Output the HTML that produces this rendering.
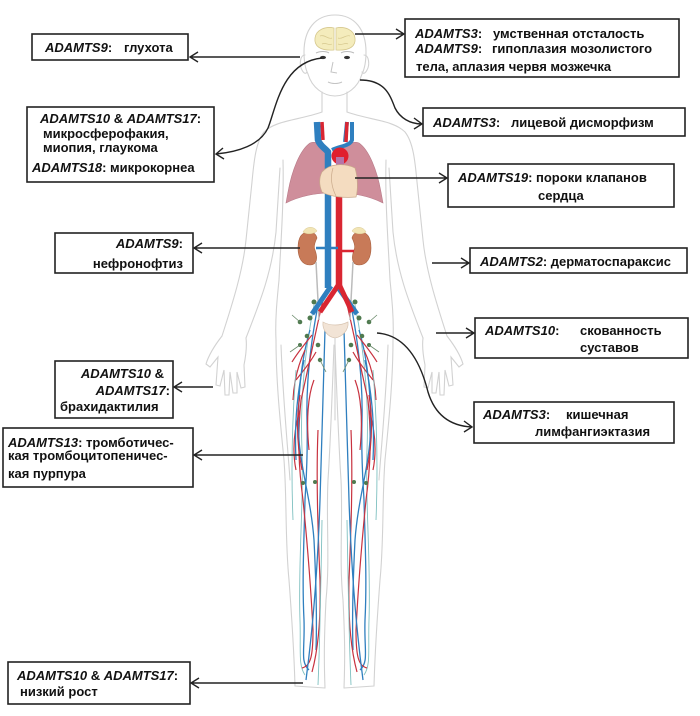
<!DOCTYPE html>
<html><head><meta charset="utf-8"><style>
html,body{margin:0;padding:0;background:#fff;}
svg{display:block;}
text{font-family:"Liberation Sans","DejaVu Sans",sans-serif;font-weight:bold;font-size:13px;fill:#111;}
.i{font-style:italic;}
.box{fill:#fff;stroke:#222;stroke-width:1.6;}
.ar{fill:none;stroke:#222;stroke-width:1.4;}
.bo{fill:none;stroke:#d2d2d2;stroke-width:1.1;stroke-linecap:round;}
.vr{fill:none;stroke:#c8323f;stroke-width:1.2;}
.vb{fill:none;stroke:#2f7fbf;stroke-width:1.3;}
.vt{fill:none;stroke:#7fc0c0;stroke-width:0.9;}
</style></head><body>
<svg width="700" height="716" viewBox="0 0 700 716" xmlns="http://www.w3.org/2000/svg">
<rect width="700" height="716" fill="#fff"/>

<!-- ===== BODY OUTLINE ===== -->
<g id="half">
  <!-- arm outer -->
  <path class="bo" d="M322,112 C300,120 276,120 264,132 C256,142 254,160 252,182 L246,240 C243,270 233,302 222,336"/>
  <!-- arm inner -->
  <path class="bo" d="M280,168 L276,232 C272,272 260,302 246,338"/>
  <!-- torso side -->
  <path class="bo" d="M283,160 C284,200 281,240 279,280 C277,300 275,320 276,340"/>
  <!-- hand -->
  <path class="bo" d="M222,336 C215,345 209,354 206,364 L210,367 L218,357 L216,385 L220,386 L224,370 L225,395 L229,395 L230,372 L233,393 L237,393 L237,372 L241,388 L245,387 L244,365 C246,355 247,346 246,338"/>
  <!-- leg -->
  <path class="bo" d="M276,340 C276,380 280,420 284,460 C287,500 285,540 289,580 C292,620 294,650 295,686 L325,688"/>
  <path class="bo" d="M334,345 C332,400 330,450 328,480 C326,520 330,560 326,600 C324,640 324,660 325,688"/>
  <path class="bo" d="M281,345 C283,400 288,450 290,480" />
  <!-- leg vessels -->
  <path class="vt" d="M314,305 C305,350 300,400 302,450 C304,500 298,560 300,620 C301,650 298,665 305,675"/>
  <path class="vb" d="M319,300 C311,340 306,380 307,420 C308,460 306,480 305,500 C304,540 302,580 304,620 C305,650 300,662 309,670"/>
  <path class="vr" d="M323,300 C316,330 310,360 301,400 C297,440 299,470 303,500 C307,540 311,590 313,630 C313,655 311,666 302,668"/>
  <path class="vb" d="M310,330 C301,360 297,400 299,440 C301,470 311,500 314,540 C316,580 317,620 316,650"/>
  <path class="vr" d="M312,335 C304,345 298,352 292,362 M305,350 C298,365 294,380 293,400 M300,410 C294,430 292,450 296,470"/>
  <path class="vr" d="M318,430 C316,480 318,530 320,580 C321,620 318,650 312,672"/>
  <path class="vr" d="M316,352 C309,365 302,372 296,380 M314,380 C308,395 306,420 309,450 M300,395 C296,420 297,445 302,470"/>
  <path class="vb" d="M325,330 C323,380 322,440 320,500 C318,560 314,620 306,680"/>
  <path class="vb" d="M304,360 C298,390 294,420 296,460"/>
  <path class="vt" d="M296,370 C292,420 291,470 293,520 M322,520 C321,580 320,640 318,685"/>
  <!-- lymph nodes -->
  <g fill="#4f7a4f">
    <circle cx="314" cy="302" r="2.5"/><circle cx="310" cy="318" r="2.5"/><circle cx="300" cy="322" r="2.3"/>
    <circle cx="307" cy="336" r="2.3"/><circle cx="318" cy="345" r="2.3"/><circle cx="320" cy="360" r="2.2"/>
    <circle cx="300" cy="345" r="2"/><circle cx="303" cy="483" r="2"/><circle cx="315" cy="482" r="2"/>
  </g>
  <path d="M300,322 L292,315 M300,345 L290,352 M320,360 L326,372" stroke="#6a8a6a" stroke-width="0.8" fill="none"/>
  <!-- lung -->
  <path d="M310,143 C300,150 292,170 288,192 L286,203 C300,196 315,193 331,193 L327,150 C323,144 316,141 310,143 Z" fill="#cf8e9b" stroke="#b77a88" stroke-width="0.6"/>
  <!-- kidney -->
  <path d="M309,232 C300,232 298,240 298,248 C298,258 302,265 310,265 C317,265 318,258 315,250 C313,246 316,240 317,238 C316,234 313,232 309,232 Z" fill="#c87a58" stroke="#a8603f" stroke-width="0.6"/>
  <path d="M303,232 C306,226 314,226 317,231 C314,234 307,235 303,232 Z" fill="#f2e5b5" stroke="#d8c890" stroke-width="0.5"/>
  <!-- ureter -->
  <path d="M316,262 L319,320" stroke="#bbb" stroke-width="1.5" fill="none"/>
  <!-- ear -->
  <path class="bo" d="M305,55 C300,55 299,65 302,70 C304,74 306,74 307,72"/>
  <!-- neck -->
  <path class="bo" d="M322,92 L322,112"/>
</g>
<use href="#half" transform="translate(669,0) scale(-1,1)"/>

<!-- head -->
<path class="bo" d="M335,15 C355,15 366,30 366,52 C366,62 364,70 362,74 C358,88 346,96 335,96 C324,96 312,88 308,74 C306,70 304,62 304,52 C304,30 315,15 335,15 Z"/>
<!-- brain -->
<path d="M334,28 C325,26 316,30 315,38 C314,46 320,51 334,50 Z" fill="#f4ecbc" stroke="#d6c88e" stroke-width="0.8"/>
<path d="M336,28 C345,26 354,30 355,38 C356,46 350,51 336,50 Z" fill="#f4ecbc" stroke="#d6c88e" stroke-width="0.8"/>
<path d="M320,36 C325,34 328,40 332,38 M338,38 C342,40 346,34 350,36 M322,44 C326,42 329,46 332,44 M338,44 C342,46 345,42 348,44" stroke="#d6c88e" stroke-width="0.7" fill="none"/>
<!-- face -->
<path d="M316,53 C320,51 326,51 329,53 M341,53 C344,51 350,51 354,53" stroke="#bbb" stroke-width="1" fill="none"/>
<ellipse cx="323" cy="57.5" rx="3" ry="1.6" fill="#333"/>
<ellipse cx="347" cy="57.5" rx="3" ry="1.6" fill="#333"/>
<path d="M333,62 L331,72 L337,73 M328,82 C332,84 338,84 342,82" stroke="#c4c4c4" stroke-width="1" fill="none"/>

<!-- central vessels -->
<path d="M317,122 L318,140 C320,146 325,148 328,152 L328,288" stroke="#2f7fbf" stroke-width="6.5" fill="none"/>
<path d="M322,122 L323,140" stroke="#d92632" stroke-width="3.5" fill="none"/>
<path d="M347,122 L345,142 M352,122 L352,140 C350,146 340,146 332,150" stroke="#2f7fbf" stroke-width="4" fill="none"/>
<path d="M347,122 L346,142" stroke="#d92632" stroke-width="3.5" fill="none"/>
<path d="M339,196 L339,288" stroke="#d92632" stroke-width="6.5" fill="none"/>
<circle cx="340" cy="156" r="8.5" fill="#e01f2e"/>
<rect x="336" y="157" width="8" height="9" fill="#b575a8"/>
<!-- iliacs -->
<path d="M331,286 L312,314" stroke="#2f7fbf" stroke-width="5" fill="none"/>
<path d="M337,286 L357,314" stroke="#2f7fbf" stroke-width="5" fill="none"/>
<path d="M339,284 L320,312" stroke="#d92632" stroke-width="5" fill="none"/>
<path d="M339,284 L352,312" stroke="#d92632" stroke-width="5" fill="none"/>
<!-- renal -->
<path d="M316,248 L338,248" stroke="#2f7fbf" stroke-width="2.5"/>
<path d="M340,251 L354,251" stroke="#d92632" stroke-width="2.5"/>
<!-- heart -->
<path d="M322,172 C330,163 345,163 355,168 C358,178 358,190 356,197 C345,198 330,197 322,192 C319,185 319,178 322,172 Z" fill="#f4dcc0" stroke="#c9a98a" stroke-width="0.7"/>
<path d="M333,168 C330,178 332,188 336,196" stroke="#c9a98a" stroke-width="0.7" fill="none"/>
<!-- bladder -->
<path d="M323,322 C330,326 340,326 348,322 C349,330 342,337 335,338 C328,337 322,330 323,322 Z" fill="#f2e4d6" stroke="#d8c4b0" stroke-width="0.7"/>
<path class="bo" d="M335,338 L335,420"/>

<!-- ===== BOXES ===== -->
<rect class="box" x="32" y="34" width="156" height="26"/>
<text x="45" y="52"><tspan class="i">ADAMTS9</tspan>:</text><text x="124" y="52">глухота</text>

<rect class="box" x="27" y="107" width="187" height="75"/>
<text x="40" y="123"><tspan class="i">ADAMTS10</tspan> &amp; <tspan class="i">ADAMTS17</tspan>:</text>
<text x="43" y="138">микросферофакия,</text>
<text x="43" y="152">миопия, глаукома</text>
<text x="32" y="172"><tspan class="i">ADAMTS18</tspan>: микрокорнеа</text>

<rect class="box" x="405" y="19" width="274" height="58"/>
<text x="415" y="38"><tspan class="i">ADAMTS3</tspan>:</text><text x="493" y="38">умственная отсталость</text>
<text x="415" y="53"><tspan class="i">ADAMTS9</tspan>:</text><text x="492" y="53">гипоплазия мозолистого</text>
<text x="416" y="71">тела, аплазия червя мозжечка</text>

<rect class="box" x="423" y="108" width="262" height="28"/>
<text x="433" y="127"><tspan class="i">ADAMTS3</tspan>:</text><text x="511" y="127">лицевой дисморфизм</text>

<rect class="box" x="448" y="164" width="226" height="43"/>
<text x="458" y="182"><tspan class="i">ADAMTS19</tspan>: пороки клапанов</text>
<text x="538" y="200">сердца</text>

<rect class="box" x="55" y="233" width="138" height="40"/>
<text x="183" y="248" text-anchor="end"><tspan class="i">ADAMTS9</tspan>:</text>
<text x="183" y="268" text-anchor="end">нефронофтиз</text>

<rect class="box" x="470" y="248" width="217" height="25"/>
<text x="480" y="266"><tspan class="i">ADAMTS2</tspan>: дерматоспараксис</text>

<rect class="box" x="475" y="318" width="213" height="40"/>
<text x="485" y="335"><tspan class="i">ADAMTS10</tspan>:</text><text x="580" y="335">скованность</text>
<text x="580" y="352">суставов</text>

<rect class="box" x="55" y="361" width="118" height="57"/>
<text x="164" y="378" text-anchor="end"><tspan class="i">ADAMTS10</tspan> &amp;</text>
<text x="170" y="395" text-anchor="end"><tspan class="i">ADAMTS17</tspan>:</text>
<text x="60" y="411">брахидактилия</text>

<rect class="box" x="474" y="402" width="200" height="41"/>
<text x="483" y="419"><tspan class="i">ADAMTS3</tspan>:</text><text x="566" y="419">кишечная</text>
<text x="535" y="436">лимфангиэктазия</text>

<rect class="box" x="3" y="428" width="190" height="59"/>
<text x="8" y="447"><tspan class="i">ADAMTS13</tspan>: тромботичес-</text>
<text x="8" y="460">кая тромбоцитопеничес-</text>
<text x="8" y="478">кая пурпура</text>

<rect class="box" x="8" y="662" width="182" height="42"/>
<text x="17" y="680"><tspan class="i">ADAMTS10</tspan> &amp; <tspan class="i">ADAMTS17</tspan>:</text>
<text x="20" y="696">низкий рост</text>

<!-- ===== ARROWS ===== -->
<path class="ar" d="M300,57 L190,57 M198,52 L190,57 L198,62"/>
<path class="ar" d="M322,58 C282,62 276,108 268,128 C260,145 238,152 216,154 M223,148 L216,154 L224,159"/>
<path class="ar" d="M355,34 L404,34 M396,29 L404,34 L396,39"/>
<path class="ar" d="M360,80 C385,80 390,95 395,108 C400,118 410,124 422,124 M414,118 L422,124 L414,129"/>
<path class="ar" d="M355,178 L447,178 M439,173 L447,178 L439,183"/>
<path class="ar" d="M300,248 L194,248 M202,243 L194,248 L202,253"/>
<path class="ar" d="M432,263 L469,263 M461,258 L469,263 L461,268"/>
<path class="ar" d="M436,333 L474,333 M466,328 L474,333 L466,338"/>
<path class="ar" d="M213,387 L174,387 M182,382 L174,387 L182,392"/>
<path class="ar" d="M377,333 C405,335 420,360 428,392 C435,415 450,426 472,427 M464,421 L472,427 L464,432"/>
<path class="ar" d="M303,455 L194,455 M202,450 L194,455 L202,460"/>
<path class="ar" d="M303,683 L191,683 M199,678 L191,683 L199,688"/>
</svg>
</body></html>
